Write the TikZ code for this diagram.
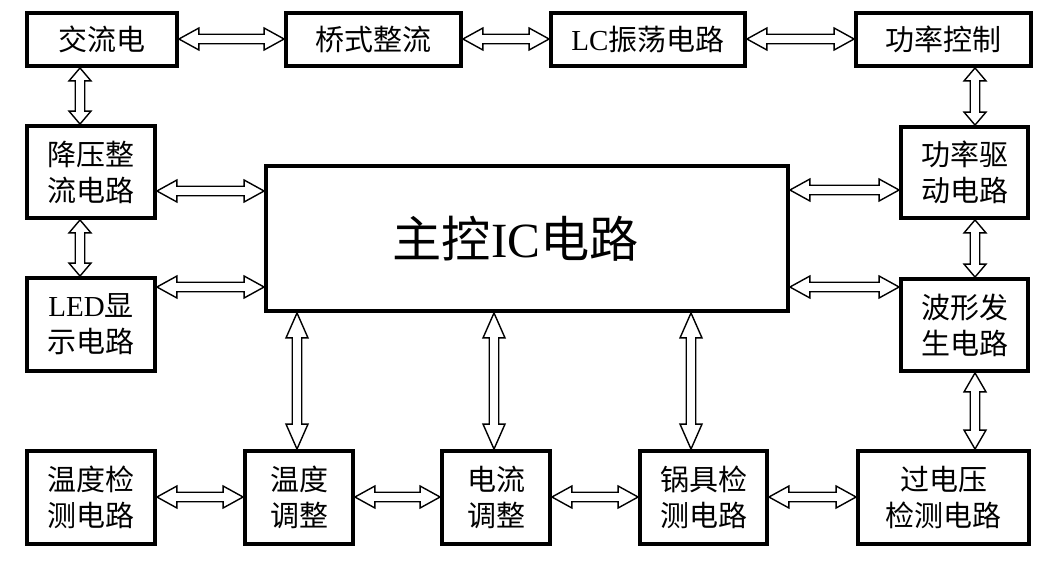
\documentclass[tikz,border=0pt]{standalone}
\usepackage{fontspec}
\setmainfont{Liberation Serif}
\newfontfamily\cjk{Noto Sans CJK SC}
\usetikzlibrary{calc}

\tikzset{
  box/.style={draw, line width=2.2pt, rectangle, align=center, inner sep=2pt,
    font=\cjk\fontsize{16.5}{20.5}\selectfont},
  fat/.style={draw, line width=0.8pt, fill=white, line join=miter},
}
\newcommand\arrhw{0.22cm}
\newcommand\arrsw{0.095cm}
% horizontal hollow double arrow: [head] {left} {right} {height}
\newcommand\hfat[4][0.4cm]{%
  \draw[fat] let \p1=(#2), \p2=(#3) in
    (\x1,#4) -- ++(#1,\arrhw) -- ++(0,{\arrsw-\arrhw}) -- ({\x2-#1},{#4+\arrsw})
    -- ++(0,{\arrhw-\arrsw}) -- (\x2,#4) -- ({\x2-#1},{#4-\arrhw}) -- ++(0,{\arrhw-\arrsw})
    -- ({\x1+#1},{#4-\arrsw}) -- ++(0,{\arrsw-\arrhw}) -- cycle;}
% vertical one: [head] {top} {bottom} {x}
\newcommand\vfat[4][0.5cm]{%
  \draw[fat] let \p1=(#2), \p2=(#3) in
    (#4,\y1) -- ++(-\arrhw,-#1) -- ++({\arrhw-\arrsw},0) -- ({#4-\arrsw},{\y2+#1})
    -- ++({\arrsw-\arrhw},0) -- (#4,\y2) -- ({#4+\arrhw},{\y2+#1}) -- ++({\arrsw-\arrhw},0)
    -- ({#4+\arrsw},{\y1-#1}) -- ++({\arrhw-\arrsw},0) -- cycle;}

\begin{document}
\begin{tikzpicture}
\useasboundingbox (0,0) rectangle (21.28,-11.36);
% top row
\node[box, minimum width=3.00cm, minimum height=1.06cm] (ac) at (2.04,-0.79) {交流电};
\node[box, minimum width=3.50cm, minimum height=1.06cm] (qs) at (7.47,-0.79) {桥式整流};
\node[box, minimum width=3.88cm, minimum height=1.06cm] (lc) at (12.96,-0.79) {{\rmfamily LC}振荡电路};
\node[box, minimum width=3.50cm, minimum height=1.06cm] (gk) at (18.87,-0.79) {功率控制};
% sides
\node[box, minimum width=2.56cm, minimum height=1.84cm] (jy) at (1.82,-3.44) {降压整\\流电路};
\node[box, minimum width=2.56cm, minimum height=1.86cm] (led) at (1.82,-6.49) {{\rmfamily LED}显\\示电路};
\node[box, minimum width=2.54cm, minimum height=1.82cm] (qd) at (19.29,-3.45) {功率驱\\动电路};
\node[box, minimum width=2.54cm, minimum height=1.84cm] (bx) at (19.29,-6.50) {波形发\\生电路};
\node[box, minimum width=10.44cm, minimum height=2.90cm,
  font=\cjk\fontsize{28}{32}\selectfont] (ic) at (10.54,-4.77) {主控{\rmfamily IC}电路\hspace*{0.45cm}};
% bottom row
\node[box, minimum width=2.56cm, minimum height=1.86cm] (wj) at (1.82,-9.95) {温度检\\测电路};
\node[box, minimum width=2.16cm, minimum height=1.86cm] (wt) at (5.98,-9.95) {温度\\调整};
\node[box, minimum width=2.16cm, minimum height=1.86cm] (dt) at (9.92,-9.95) {电流\\调整};
\node[box, minimum width=2.54cm, minimum height=1.86cm] (gj) at (14.07,-9.95) {锅具检\\测电路};
\node[box, minimum width=3.42cm, minimum height=1.86cm] (gy) at (18.87,-9.95) {过电压\\检测电路};

\hfat{ac.east}{qs.west}{-0.78cm}
\hfat{qs.east}{lc.west}{-0.78cm}
\hfat{lc.east}{gk.west}{-0.78cm}
\hfat{jy.east}{ic.west}{-3.82cm}
\hfat{led.east}{ic.west}{-5.74cm}
\hfat{ic.east}{qd.west}{-3.80cm}
\hfat{ic.east}{bx.west}{-5.74cm}
\hfat{wj.east}{wt.west}{-9.94cm}
\hfat{wt.east}{dt.west}{-9.94cm}
\hfat{dt.east}{gj.west}{-9.94cm}
\hfat{gj.east}{gy.west}{-9.94cm}

\vfat[0.26cm]{ac.south}{jy.north}{1.60cm}
\vfat[0.26cm]{jy.south}{led.north}{1.60cm}
\vfat[0.26cm]{gk.south}{qd.north}{19.50cm}
\vfat[0.26cm]{qd.south}{bx.north}{19.50cm}
\vfat[0.38cm]{bx.south}{gy.north}{19.50cm}
\vfat{ic.south}{wt.north}{5.94cm}
\vfat{ic.south}{dt.north}{9.88cm}
\vfat{ic.south}{gj.north}{13.82cm}
\end{tikzpicture}
\end{document}
